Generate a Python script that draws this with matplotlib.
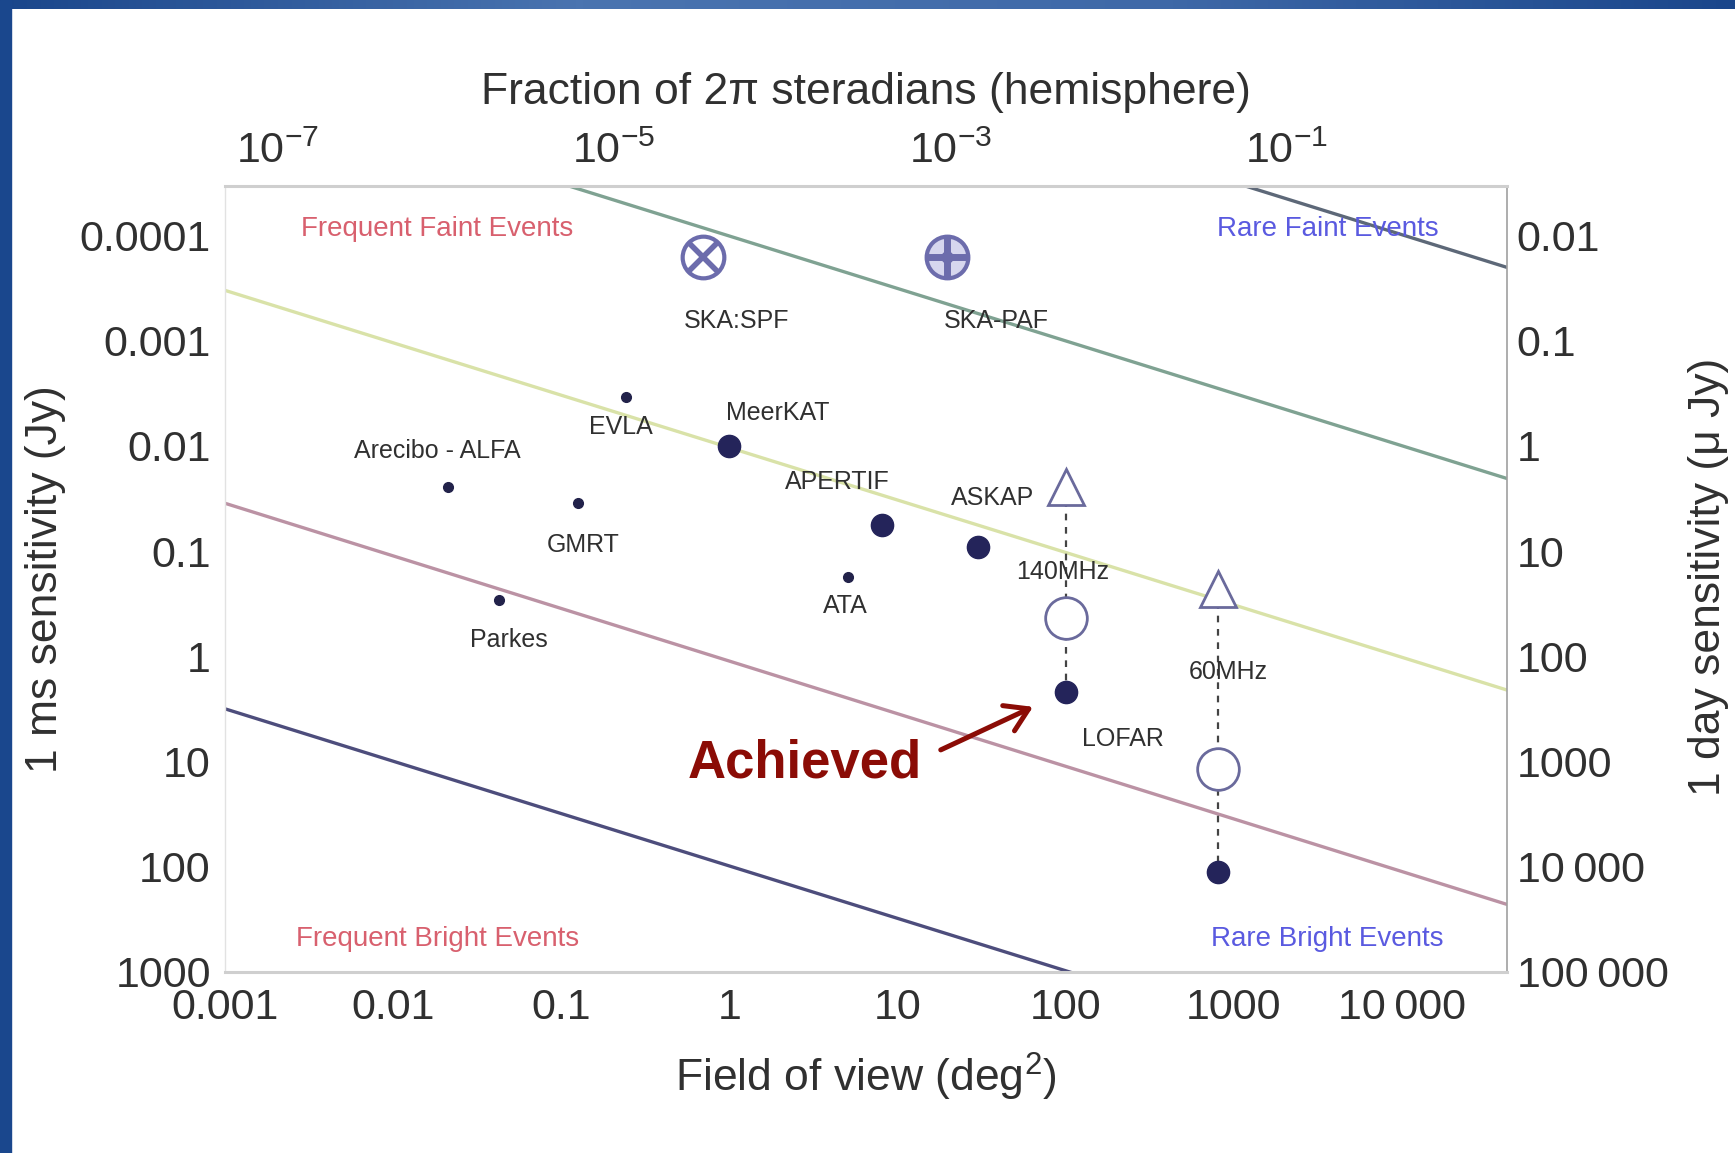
import numpy as np
import matplotlib
matplotlib.use('Agg')
import matplotlib.pyplot as plt
from matplotlib.patches import Rectangle
from matplotlib.colors import LinearSegmentedColormap
from matplotlib.ticker import FixedLocator, FixedFormatter, NullLocator

plt.rcParams['font.family'] = ['Liberation Sans', 'DejaVu Sans']
plt.rcParams['mathtext.fontset'] = 'custom'
plt.rcParams['mathtext.rm'] = 'Liberation Sans'
plt.rcParams['mathtext.it'] = 'Liberation Sans:italic'

# ---- data ----
# small dots (field of view deg^2, 1 ms sensitivity Jy)
small_names = ['Arecibo - ALFA', 'GMRT', 'EVLA', 'ATA', 'Parkes']
small_fov = [0.0213, 0.126, 0.244, 5.06, 0.043]
small_sens = [0.0245, 0.035, 0.0034, 0.175, 0.29]

# big dots
big_names = ['MeerKAT', 'APERTIF', 'ASKAP', 'LOFAR', '']
big_fov = [1.0, 8.1, 30.0, 100.0, 800.0]
big_sens = [0.01, 0.056, 0.091, 2.17, 112.0]

# LOFAR future points (triangles, open circles)
lofar_names = ['140MHz', '60MHz']
lofar_fov = [100.0, 800.0]
lofar_tri = [0.0245, 0.228]
lofar_circ = [0.43, 11.9]

# SKA
ska_names = ['SKA:SPF', 'SKA-PAF']
ska_fov = [0.70, 19.8]
ska_sens = [1.6e-4, 1.6e-4]

# constant event-rate lines: ends at left and right of plot
line_fov = [1e-3, 4.2e4]
line_s_left = [3.2e-8, 3.2e-6, 3.3e-4, 0.035, 3.16]
line_s_right = [2.0e-4, 0.0204, 2.1, 230.0, 2.0e4]
line_colors = ['#5d6878', '#7fa292', '#d9e2a8', '#bb92a4', '#4d4d7c']

x_ticks = [0.001, 0.01, 0.1, 1, 10, 100, 1000, 10000]
x_labels = ['0.001', '0.01', '0.1', '1', '10', '100', '1000', '10\u2009000']
y_ticks = [1e-4, 1e-3, 1e-2, 0.1, 1, 10, 100, 1000]
y_labels = ['0.0001', '0.001', '0.01', '0.1', '1', '10', '100', '1000']
yr_labels = ['0.01', '0.1', '1', '10', '100', '1000', '10\u2009000', '100\u2009000']
top_ticks = [1e-7, 1e-5, 1e-3, 1e-1]

txt = '#303030'

fig = plt.figure(figsize=(17.35, 11.53), dpi=100)
fig.patch.set_facecolor('white')

# slide border
band = fig.add_axes([0, 1 - 0.0078, 1, 0.0078])
cm = LinearSegmentedColormap.from_list('b', ['#1a468b', '#4a74b0', '#3f69a8', '#1a468b'])
band.imshow(np.linspace(0, 1, 256)[None, :], aspect='auto', cmap=cm)
band.axis('off')
fig.patches.append(Rectangle((0, 0), 0.0063, 1, transform=fig.transFigure, color='#1a478d', zorder=0))

ax = fig.add_axes([0.1295, 0.1574, 0.7391, 0.6813])
ax.set_xscale('log')
ax.set_yscale('log')
ax.set_xlim(1e-3, 4.2e4)
ax.set_ylim(1000, 3.36e-5)

for sl, sr, c in zip(line_s_left, line_s_right, line_colors):
    ax.plot(line_fov, [sl, sr], color=c, lw=2.4, zorder=1)

# dashed LOFAR connectors
for f, t, d in zip(lofar_fov, lofar_tri, big_sens[3:]):
    ax.plot([f, f], [t, d], ls=(0, (3, 3)), color='#444444', lw=1.6, zorder=2)

ax.plot(small_fov, small_sens, 'o', ms=7, color='#22224a', zorder=3)
ax.plot(big_fov, big_sens, 'o', ms=16, color='#24245a', zorder=3)
ax.plot(lofar_fov, lofar_tri, '^', ms=26, mfc='white', mec='#6a6a9c', mew=2, zorder=3)
ax.plot(lofar_fov, lofar_circ, 'o', ms=30, mfc='white', mec='#6a6a9c', mew=2, zorder=3)

# SKA markers
ax.plot(ska_fov[0], ska_sens[0], 'o', ms=30, mfc='white', mec='#6c6cac', mew=3, zorder=3)
ax.plot(ska_fov[0], ska_sens[0], 'x', ms=21, mec='#6c6cac', mew=4, zorder=4)
ax.plot(ska_fov[1], ska_sens[1], 'o', ms=30, mfc='#d6d6ee', mec='#6c6cac', mew=3, zorder=3)
ax.plot(ska_fov[1], ska_sens[1], '+', ms=30, mec='#6c6cac', mew=5, zorder=4)
ax.plot(ska_fov[1], ska_sens[1], 'o', ms=8, color='#6c6cac', zorder=5)

lab = dict(textcoords='offset points', ha='center', va='center', fontsize=18, color=txt)
small_off = [(-8, 26), (4, -30), (-4, -22), (-2, -21), (7, -29)]
for n, f, s, o in zip(small_names, small_fov, small_sens, small_off):
    ax.annotate(n, (f, s), xytext=o, **lab)
big_off = [(35, 24), (-32, 31), (11, 35), (41, -34), (0, 0)]
for n, f, s, o in zip(big_names, big_fov, big_sens, big_off):
    if n:
        ax.annotate(n, (f, s), xytext=o, **lab)
for n, f, s, o in zip(lofar_names, lofar_fov, lofar_tri, [(-2, -61), (8, -60)]):
    ax.annotate(n, (f, s), xytext=o, **lab)
for n, f, s, o in zip(ska_names, ska_fov, ska_sens, [(24, -46), (35, -46)]):
    ax.annotate(n, (f, s), xytext=o, **lab)

# corner annotations
ax.text(0.166, 0.945, 'Frequent Faint Events', transform=ax.transAxes, ha='center', va='center',
        fontsize=20, color='#d8606e')
ax.text(0.860, 0.945, 'Rare Faint Events', transform=ax.transAxes, ha='center', va='center',
        fontsize=20, color='#5a5ae0')
ax.text(0.166, 0.042, 'Frequent Bright Events', transform=ax.transAxes, ha='center', va='center',
        fontsize=20, color='#d8606e')
ax.text(0.860, 0.042, 'Rare Bright Events', transform=ax.transAxes, ha='center', va='center',
        fontsize=20, color='#5a5ae0')

# "Achieved" callout on LOFAR
ax.annotate('Achieved', (big_fov[3], big_sens[3]), xytext=(-188, -52), textcoords='offset points',
            ha='center', va='center', fontsize=38, fontweight='bold', color='#8b0c06')
ax.annotate('', (big_fov[3], big_sens[3]), xytext=(-90, -42), textcoords='offset points',
            arrowprops=dict(arrowstyle='->,head_length=0.8,head_width=0.5', lw=3.6,
                            color='#8b0c06', shrinkA=0, shrinkB=26, mutation_scale=20))

ax.xaxis.set_major_locator(FixedLocator(x_ticks))
ax.xaxis.set_major_formatter(FixedFormatter(x_labels))
ax.xaxis.set_minor_locator(NullLocator())
ax.yaxis.set_major_locator(FixedLocator(y_ticks))
ax.yaxis.set_major_formatter(FixedFormatter(y_labels))
ax.yaxis.set_minor_locator(NullLocator())
ax.tick_params(axis='x', length=0, pad=12, labelsize=31, labelcolor=txt)
ax.tick_params(axis='y', length=0, pad=10, labelsize=31, labelcolor=txt)

ax.set_xlabel('Field of view (deg$^2$)', fontsize=32, color=txt, labelpad=16)
ax.set_ylabel('1 ms sensitivity (Jy)', fontsize=32, color=txt)
ax.yaxis.set_label_coords(-0.124, 0.5)

for sp in ['top', 'bottom']:
    ax.spines[sp].set_color('#cfcfcf')
    ax.spines[sp].set_linewidth(2.2)
ax.spines['left'].set_color('#e2e2e2')
ax.spines['left'].set_linewidth(1)
ax.spines['right'].set_color('#a0a0a0')
ax.spines['right'].set_linewidth(1.2)

sky = 2 * np.pi * (180 / np.pi) ** 2
top = ax.secondary_xaxis('top', functions=(lambda f: f / sky, lambda r: r * sky))
top.xaxis.set_major_locator(FixedLocator(top_ticks))
top.xaxis.set_major_formatter(FixedFormatter([r'$\mathregular{10^{%d}}$' % int(np.log10(t)) for t in top_ticks]))
top.xaxis.set_minor_locator(NullLocator())
top.tick_params(length=0, pad=10, labelsize=31, labelcolor=txt)
top.spines['top'].set_visible(False)
top.set_xlabel('Fraction of 2\u03c0 steradians (hemisphere)', fontsize=32, color=txt, labelpad=20)

right = ax.secondary_yaxis('right', functions=(lambda s: s * 100, lambda u: u / 100))
right.yaxis.set_major_locator(FixedLocator([t * 100 for t in y_ticks]))
right.yaxis.set_major_formatter(FixedFormatter(yr_labels))
right.yaxis.set_minor_locator(NullLocator())
right.tick_params(length=0, pad=7, labelsize=31, labelcolor=txt)
right.spines['right'].set_visible(False)
fig.text(0.985, 0.50, '1 day sensitivity (\u03bc Jy)', fontsize=32, color=txt, rotation=90,
         ha='center', va='center')

fig.savefig('out.png', dpi=100)
